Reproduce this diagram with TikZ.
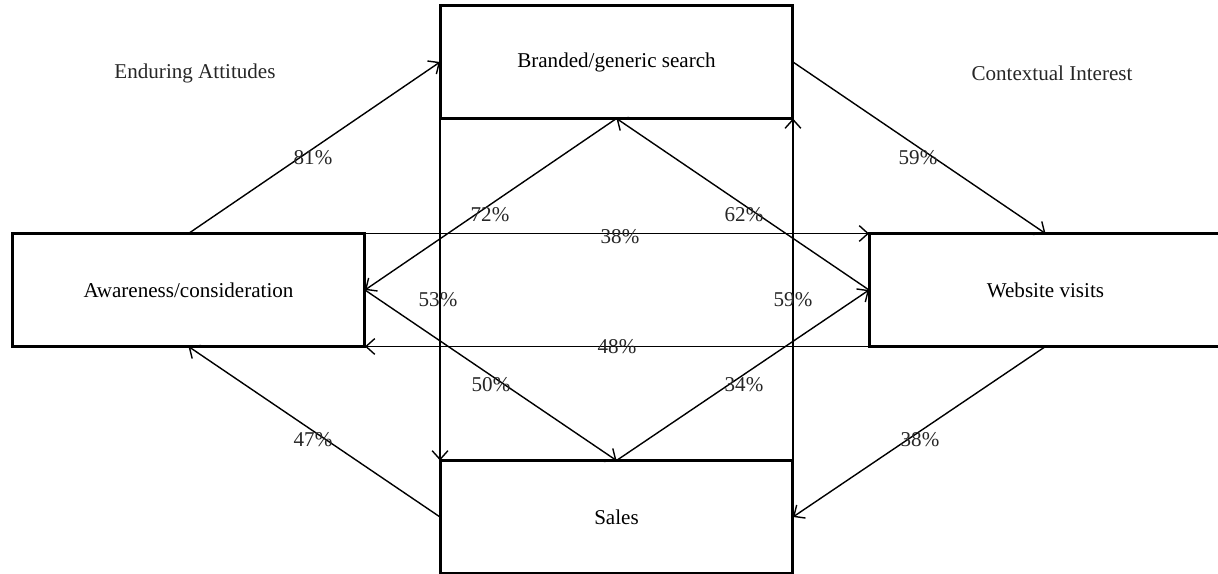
\documentclass[tikz,border=0pt]{standalone}
\usepackage{fontspec}
\setmainfont{Liberation Serif}
\usetikzlibrary{arrows.meta,positioning}

\tikzset{
  box/.style={draw, line width=1.7pt, minimum width=7.06cm, minimum height=2.26cm, inner sep=0pt, outer sep=0pt, font=\fontsize{12}{14}\selectfont},
  link/.style={line width=0.8pt, -{Straight Barb[length=5pt,width=9pt]}},
  pct/.style={inner sep=0pt, text=black!85, font=\fontsize{12}{14}\selectfont}
}

\begin{document}
\begin{tikzpicture}[x=0.02cm, y=-0.02cm]
    \useasboundingbox (0,0) rectangle (1218,574);

    % boxes
    \node[box] (search) at (616.5,62) {Branded/generic search};
    \node[box] (aware) at (188.5,290) {Awareness/consideration};
    \node[box] (visits) at (1045.5,290) {Website visits};
    \node[box] (sales) at (616.5,517) {Sales};

    \node[pct] (enduring) at (195,73) {Enduring Attitudes};
    \node[pct] (context) at (1052,73) {Contextual Interest};

    % outer diamond
    \draw[link] (aware.north) -- (search.west);
    \draw[link] (search.east) -- (visits.north);
    \draw[link] (sales.west) -- (aware.south);
    \draw[link] (visits.south) -- (sales.east);

    % inner diamond
    \draw[link] (search.south) -- (aware.east);
    \draw[link] (visits.west) -- (search.south);
    \draw[link] (aware.east) -- (sales.north);
    \draw[link] (sales.north) -- (visits.west);

    % straight links
    \draw[link] (search.south west) -- (sales.north west);
    \draw[link] (sales.north east) -- (search.south east);
    \draw[link] (aware.north east) -- (visits.north west);
    \draw[link] (visits.south west) -- (aware.south east);

    % percentages
    \node[pct] (p81) at (313,158) {81\%};
    \node[pct] (p59a) at (918,158) {59\%};
    \node[pct] (p72) at (490,215) {72\%};
    \node[pct] (p62) at (744,215) {62\%};
    \node[pct] (p38a) at (620,237) {38\%};
    \node[pct] (p53) at (438,300) {53\%};
    \node[pct] (p59b) at (793,300) {59\%};
    \node[pct] (p48) at (617,347) {48\%};
    \node[pct] (p50) at (491,385) {50\%};
    \node[pct] (p34) at (744,385) {34\%};
    \node[pct] (p47) at (313,440) {47\%};
    \node[pct] (p38b) at (920,440) {38\%};
\end{tikzpicture}
\end{document}
